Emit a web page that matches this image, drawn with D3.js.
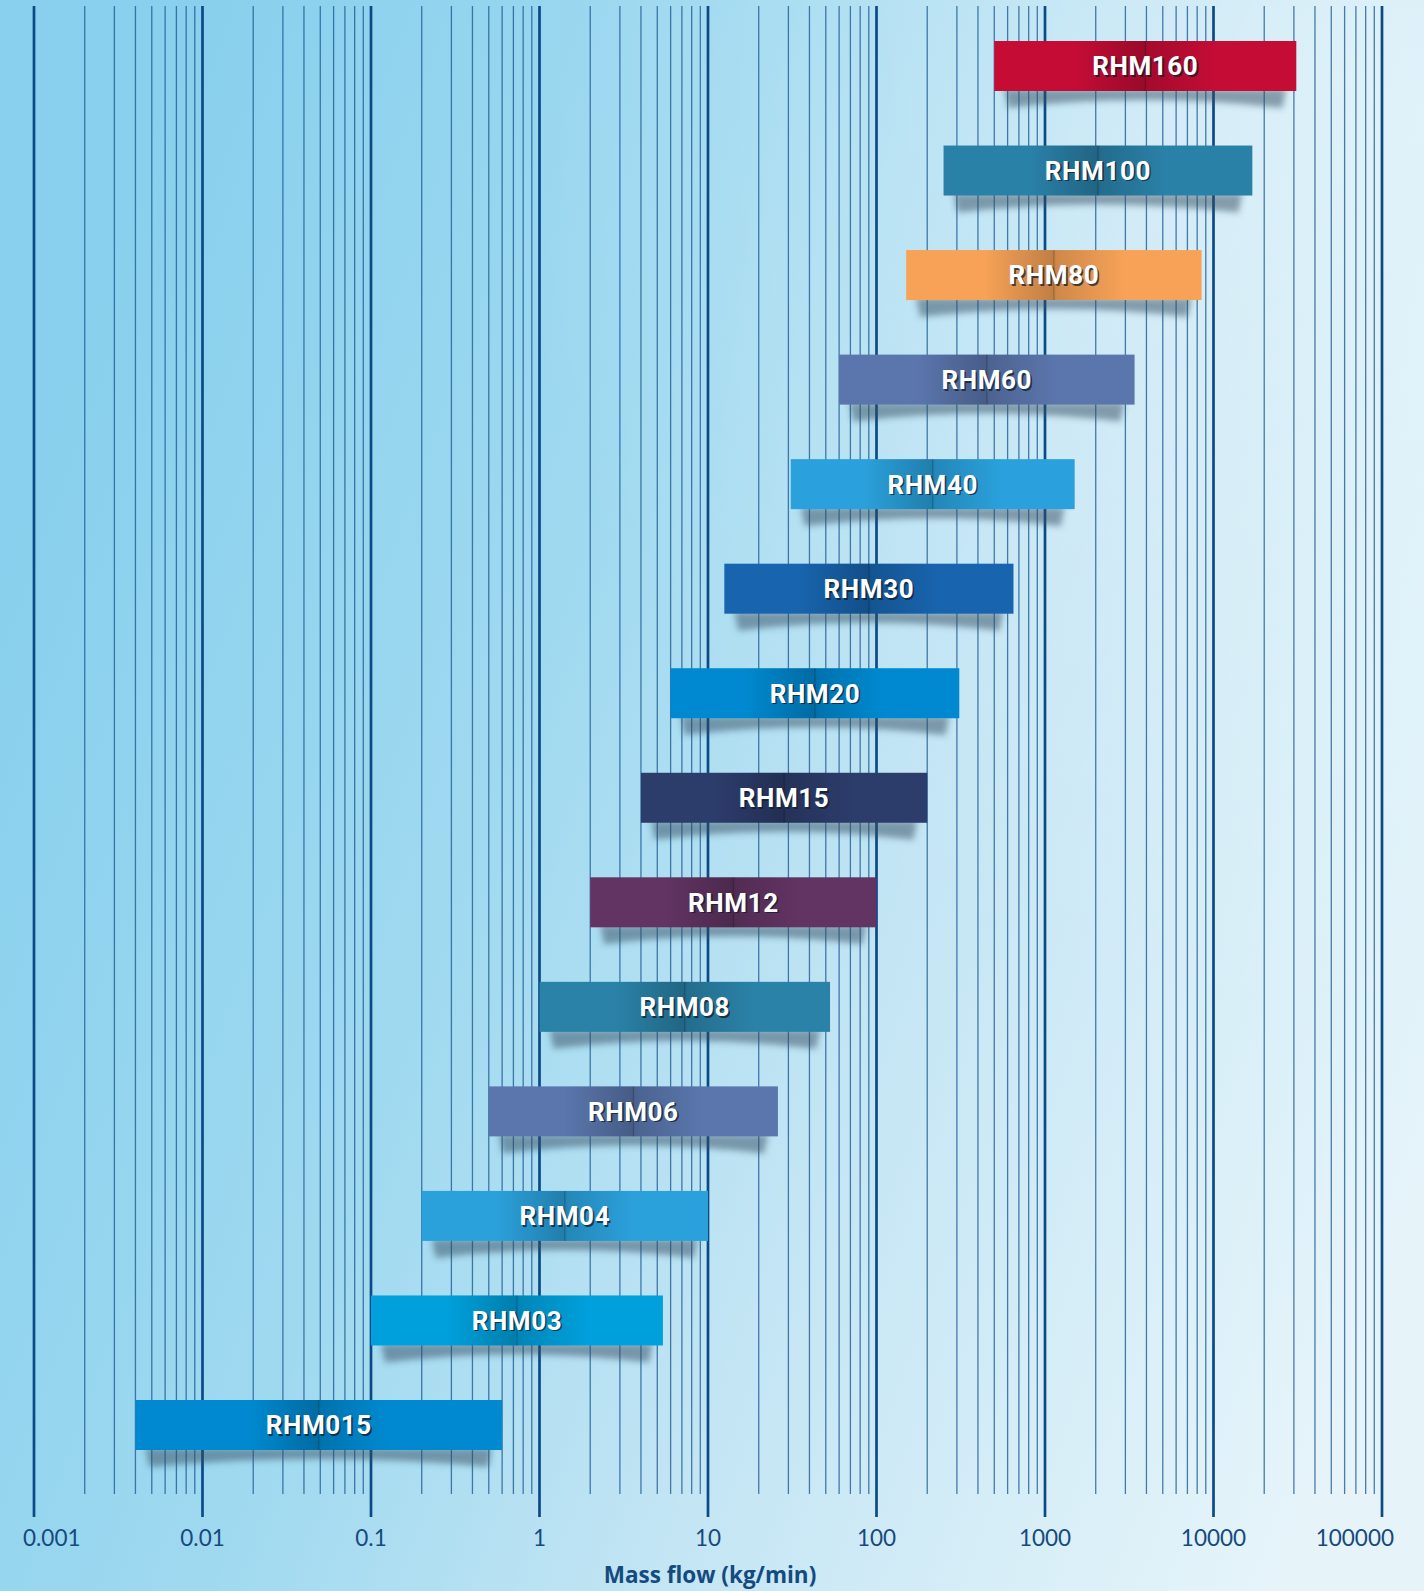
<!DOCTYPE html>
<html>
<head>
<meta charset="utf-8">
<script src="https://cdn.jsdelivr.net/npm/d3@7"></script>
<style>
  html, body { margin: 0; padding: 0; background: #ffffff; }
  svg { display: block; }
</style>
</head>
<body>
<svg id="chart" width="1424" height="1591"></svg>
<script>
// ---------------- data ----------------
const categories = ["RHM160","RHM100","RHM80","RHM60","RHM40","RHM30","RHM20","RHM15","RHM12","RHM08","RHM06","RHM04","RHM03","RHM015"];
const minFlow   = [500, 250, 150, 60, 31, 12.5, 6, 4, 2, 1, 0.5, 0.2, 0.1, 0.004];
const maxFlow   = [31000, 17000, 8500, 3400, 1500, 650, 310, 200, 100, 53, 26, 10, 5.4, 0.6];
const barColors = ["#c40c35","#2a81a8","#f7a257","#5b76ad","#2aa1dc","#1864ae","#0089d0","#2c3c6b","#623463","#2a82a8","#5a76ac","#2ba1dc","#00a0dc","#0089d0"];
const tickValues = [0.001, 0.01, 0.1, 1, 10, 100, 1000, 10000, 100000];
const tickLabels = ["0.001","0.01","0.1","1","10","100","1000","10000","100000"];
const axisTitle = "Mass flow (kg/min)";

// ---------------- setup ----------------
const W = 1424, H = 1591;
const svg = d3.select("#chart");
const defs = svg.append("defs");

const bg = defs.append("linearGradient").attr("id","bg")
  .attr("x1","0").attr("y1","0.35").attr("x2","1").attr("y2","0.75");
[["0","#88d0ed"],["0.35","#9fd9f0"],["0.62","#c3e5f4"],["0.85","#d9eff8"],["1","#e6f4fa"]]
  .forEach(([o,c]) => bg.append("stop").attr("offset",o).attr("stop-color",c));

const topGlow = defs.append("radialGradient").attr("id","glow")
  .attr("cx","0.95").attr("cy","0.05").attr("r","0.6");
topGlow.append("stop").attr("offset","0").attr("stop-color","#ffffff").attr("stop-opacity",0.35);
topGlow.append("stop").attr("offset","1").attr("stop-color","#ffffff").attr("stop-opacity",0);

const seam = defs.append("linearGradient").attr("id","seam").attr("x1","0").attr("x2","1").attr("y1","0").attr("y2","0");
[["0",0],["0.5",0.22],["0.52",0.16],["1",0]].forEach(([o,a]) =>
  seam.append("stop").attr("offset",o).attr("stop-color","#000").attr("stop-opacity",a));

const blur = defs.append("filter").attr("id","blur").attr("x","-10%").attr("y","-100%").attr("width","120%").attr("height","300%");
blur.append("feGaussianBlur").attr("stdDeviation",3.2);

svg.append("rect").attr("width",W).attr("height",H).attr("fill","url(#bg)");
svg.append("rect").attr("width",W).attr("height",H).attr("fill","url(#glow)");

// ---------------- scales ----------------
const x = d3.scaleLog().domain([0.001, 100000]).range([34, 1382]);
const y = d3.scaleBand().domain(categories).range([41, 1450]).paddingInner(0.5217).paddingOuter(0);

const gridTop = 6, minorBottom = 1494, majorBottom = 1517;
const isMajor = v => Math.abs(Math.log10(v) - Math.round(Math.log10(v))) < 1e-9;

// grid lines
const allTicks = x.ticks();
svg.append("g").selectAll("line").data(allTicks.filter(v => !isMajor(v))).join("line")
  .attr("x1", d => x(d)).attr("x2", d => x(d))
  .attr("y1", gridTop).attr("y2", minorBottom)
  .attr("stroke", "#1f5c96").attr("stroke-opacity", 0.8).attr("stroke-width", 1.3);
svg.append("g").selectAll("line").data(tickValues).join("line")
  .attr("x1", d => x(d)).attr("x2", d => x(d))
  .attr("y1", gridTop).attr("y2", majorBottom)
  .attr("stroke", "#0b4a86").attr("stroke-width", 2.7);

// tick labels
svg.append("g").selectAll("text").data(tickValues).join("text")
  .attr("x", d => x(d))
  .attr("dx", (d,i) => i === 0 ? -11 : (i === tickValues.length - 1 ? 12 : 0))
  .attr("y", 1546)
  .attr("text-anchor", (d,i) => i === 0 ? "start" : (i === tickValues.length - 1 ? "end" : "middle"))
  .attr("font-family", "Lato, 'Open Sans', sans-serif")
  .attr("font-size", 22.5)
  .attr("fill", "#154a7e")
  .text((d,i) => tickLabels[i]);

svg.append("text")
  .attr("x", 710).attr("y", 1583)
  .attr("text-anchor", "middle")
  .attr("font-family", "'Open Sans', Lato, sans-serif")
  .attr("font-weight", 700)
  .attr("font-size", 22.5)
  .attr("fill", "#134a80")
  .text(axisTitle);

// ---------------- bars ----------------
const rows = categories.map((c,i) => ({name:c, lo:minFlow[i], hi:maxFlow[i], color:barColors[i]}));
const bh = y.bandwidth();

const g = svg.append("g").selectAll("g").data(rows).join("g");

// shadows
g.append("path")
  .attr("filter","url(#blur)")
  .attr("fill","#2f4c60").attr("fill-opacity",0.5)
  .attr("d", d => {
    const l = x(d.lo), r = x(d.hi), t = y(d.name) + bh, m = (l + r) / 2;
    return `M${l+10},${t-2} L${r-10},${t-2} L${r-14},${t+17} Q${m},${t+1} ${l+14},${t+17} Z`;
  });

// bar body
g.append("rect")
  .attr("x", d => x(d.lo)).attr("y", d => y(d.name))
  .attr("width", d => x(d.hi) - x(d.lo)).attr("height", bh)
  .attr("fill", d => d.color);

// central darkening seam
g.append("rect")
  .attr("x", d => (x(d.lo) + x(d.hi)) / 2 - 70).attr("y", d => y(d.name))
  .attr("width", 140).attr("height", bh)
  .attr("fill", "url(#seam)");
g.append("line")
  .attr("x1", d => (x(d.lo) + x(d.hi)) / 2).attr("x2", d => (x(d.lo) + x(d.hi)) / 2)
  .attr("y1", d => y(d.name)).attr("y2", d => y(d.name) + bh)
  .attr("stroke", "#000").attr("stroke-opacity", 0.22).attr("stroke-width", 1);

// labels (shadow + white)
g.append("text")
  .attr("x", d => (x(d.lo) + x(d.hi)) / 2 + 1.6)
  .attr("y", d => y(d.name) + bh / 2 + 1.6)
  .attr("dy", "0.36em")
  .attr("text-anchor", "middle")
  .attr("font-family", "Roboto, 'DejaVu Sans', sans-serif")
  .attr("font-weight", 700).attr("font-size", 26).attr("letter-spacing", 0.6)
  .attr("fill", "#0e1e2e").attr("fill-opacity", 0.75)
  .text(d => d.name);
g.append("text")
  .attr("x", d => (x(d.lo) + x(d.hi)) / 2)
  .attr("y", d => y(d.name) + bh / 2)
  .attr("dy", "0.36em")
  .attr("text-anchor", "middle")
  .attr("font-family", "Roboto, 'DejaVu Sans', sans-serif")
  .attr("font-weight", 700).attr("font-size", 26).attr("letter-spacing", 0.6)
  .attr("fill", "#ffffff")
  .text(d => d.name);
</script>
</body>
</html>
